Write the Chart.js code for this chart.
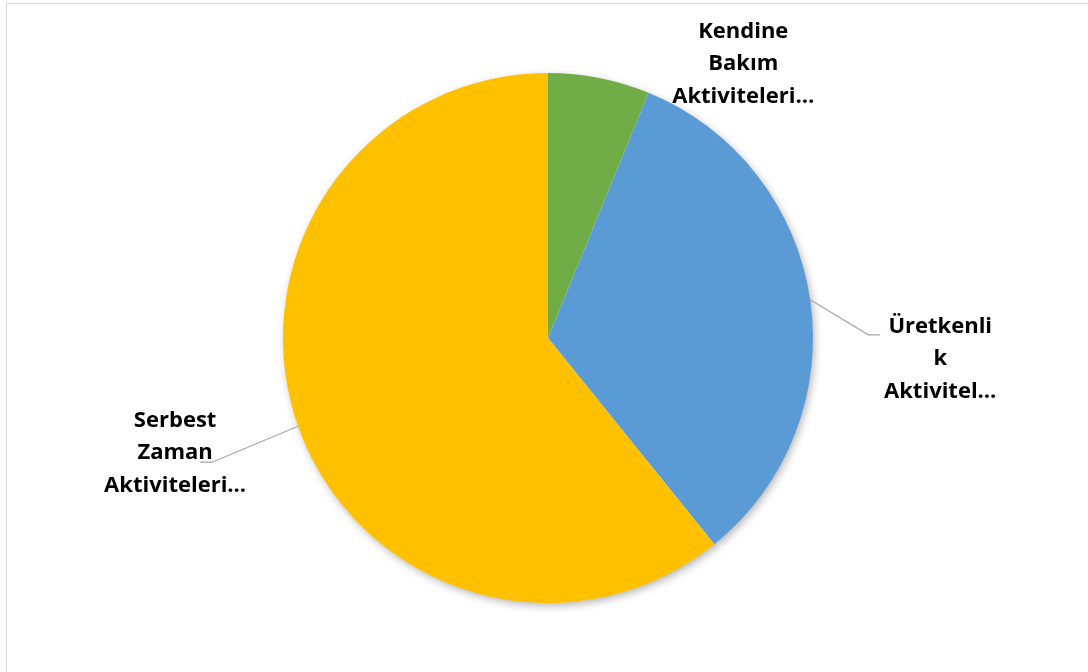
<!DOCTYPE html>
<html>
<head>
<meta charset="utf-8">
<script src="https://cdn.jsdelivr.net/npm/chart.js@4/dist/chart.umd.min.js"></script>
<style>
  html,body{margin:0;padding:0;background:#fff;overflow:hidden;}
  #wrap{position:relative;width:1088px;height:672px;}
  #frame{position:absolute;left:6px;top:3px;width:1090px;height:700px;border:1px solid #d9d9d9;box-sizing:border-box;pointer-events:none;}
  canvas{position:absolute;left:0;top:0;}
</style>
</head>
<body>
<div id="wrap">
<div id="frame"></div>
<canvas id="c" width="1088" height="672"></canvas>
</div>
<script>
// ---- data ----
const categories = [
  ["Kendine", "Bakım", "Aktiviteleri…"],
  ["Üretkenli", "k", "Aktivitel…"],
  ["Serbest", "Zaman", "Aktiviteleri…"]
];
const values = [6.2, 33.0, 60.8];
const colors = ["#70AD47", "#5B9BD5", "#FFC000"];

// label layout (offsets from slice mid-point on the arc)
const labelLayout = [
  { leader: false, dx: 144, dy: -14 },
  { leader: true, elbow: [58, 35], tail: 12, textDx: 72, textDy: 24 },
  { leader: true, elbow: [-86, 36], tail: -12, textDx: -37, textDy: -9 }
];

const shadowPlugin = {
  id: 'shadow',
  beforeDatasetDraw(chart) {
    const ctx = chart.ctx;
    const arc = chart.getDatasetMeta(0).data[0];
    if (!arc) return;
    ctx.save();
    ctx.shadowColor = 'rgba(0,0,0,0.30)';
    ctx.shadowBlur = 9;
    ctx.shadowOffsetX = 2;
    ctx.shadowOffsetY = 3;
    ctx.fillStyle = '#ffffff';
    ctx.beginPath();
    ctx.arc(arc.x, arc.y, arc.outerRadius - 0.5, 0, Math.PI * 2);
    ctx.fill();
    ctx.restore();
  }
};

const labelPlugin = {
  id: 'labels',
  afterDatasetsDraw(chart) {
    const ctx = chart.ctx;
    const meta = chart.getDatasetMeta(0);
    ctx.save();
    ctx.font = 'bold 22px "Open Sans", Lato, sans-serif';
    ctx.fillStyle = '#000';
    ctx.textAlign = 'center';
    ctx.textBaseline = 'middle';
    const lh = 32.5;
    meta.data.forEach((arc, i) => {
      const mid = (arc.startAngle + arc.endAngle) / 2;
      const r = arc.outerRadius;
      const px = arc.x + Math.cos(mid) * r;
      const py = arc.y + Math.sin(mid) * r;
      const L = labelLayout[i];
      let cx, cy;
      if (L.leader) {
        const ex = px + L.elbow[0], ey = py + L.elbow[1];
        const tx = ex + L.tail;
        ctx.strokeStyle = '#A6A6A6';
        ctx.lineWidth = 1.2;
        ctx.beginPath();
        ctx.moveTo(px, py);
        ctx.lineTo(ex, ey);
        ctx.lineTo(tx, ey);
        ctx.stroke();
        cx = ex + L.textDx;
        cy = ey + L.textDy;
      } else {
        cx = px + L.dx;
        cy = py + L.dy;
      }
      const lines = categories[i];
      lines.forEach((t, k) => {
        ctx.fillText(t, cx, cy + (k - (lines.length - 1) / 2) * lh);
      });
    });
    ctx.restore();
  }
};

new Chart(document.getElementById('c'), {
  type: 'pie',
  data: {
    labels: categories.map(l => l.join(' ')),
    datasets: [{
      data: values,
      backgroundColor: colors,
      borderWidth: 0
    }]
  },
  options: {
    responsive: false,
    animation: false,
    layout: { padding: { left: 250, right: 242, top: 73, bottom: 69 } },
    plugins: { legend: { display: false }, tooltip: { enabled: false } }
  },
  plugins: [shadowPlugin, labelPlugin]
});
</script>
</body>
</html>
